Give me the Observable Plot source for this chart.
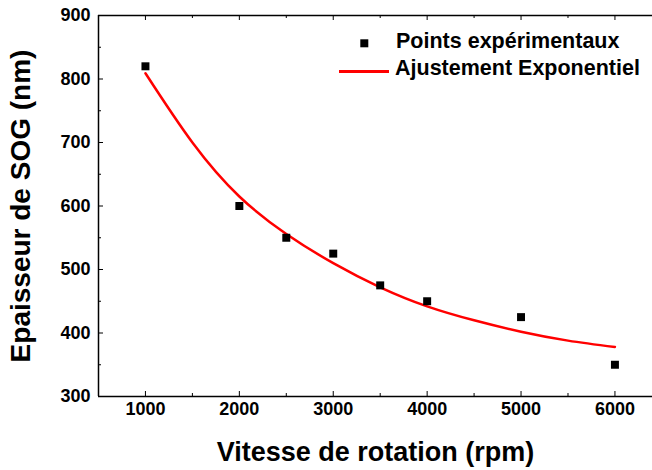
<!DOCTYPE html>
<html>
<head>
<meta charset="utf-8">
<script src="https://cdn.jsdelivr.net/npm/d3@7"></script>
<script src="https://cdn.jsdelivr.net/npm/@observablehq/plot@0.6"></script>
<style>
  html, body { margin: 0; padding: 0; background: #fff; }
  #wrap { position: relative; width: 652px; height: 470px; overflow: hidden; }
  .legend { position: absolute; font-family: Arial, "Liberation Sans", sans-serif; font-weight: bold; font-size: 21.5px; color: #000; white-space: nowrap; }
</style>
</head>
<body>
<div id="wrap"></div>
<script>
// Experimental points
const rpm = [1000, 2000, 2500, 3000, 3500, 4000, 5000, 6000];
const thickness = [820, 600, 550, 525, 475, 450, 425, 350];
// Exponential fit curve
const fitRpm = [1000, 1500, 2000, 2500, 3000, 3500, 4000, 4500, 5000, 5500, 6000];
const fitThickness = [809, 700, 615, 556, 510, 472, 442, 420, 402, 388, 378];
// Axes
const xDomain = [500, 6400];
const yDomain = [300, 900];
const xMajor = [1000, 2000, 3000, 4000, 5000, 6000];
const xMinor = [1500, 2500, 3500, 4500, 5500];
const yMajor = [300, 400, 500, 600, 700, 800, 900];
const yMinor = [350, 450, 550, 650, 750, 850];
const xLabel = "Vitesse de rotation (rpm)";
const yLabel = "Epaisseur de SOG (nm)";
const legendPoints = "Points expérimentaux";
const legendFit = "Ajustement Exponentiel";

const points = rpm.map((x, i) => ({x, y: thickness[i]}));
const fit = fitRpm.map((x, i) => ({x, y: fitThickness[i]}));

const W = 652, H = 470, mL = 98, mR = 0, mT = 15, mB = 74;
const plotW = W - mL - mR, plotH = H - mT - mB;

const chart = Plot.plot({
  width: W,
  height: H,
  marginLeft: mL,
  marginRight: mR,
  marginTop: mT,
  marginBottom: mB,
  style: {fontFamily: "Arial, 'Liberation Sans', sans-serif", fontWeight: "bold", fontSize: "18px", color: "#000", background: "#fff", overflow: "visible"},
  x: {domain: xDomain},
  y: {domain: yDomain},
  marks: [
    // frame (left, top, bottom)
    Plot.ruleY(yDomain, {stroke: "#000", strokeWidth: 1.5}),
    Plot.ruleX([xDomain[0]], {stroke: "#000", strokeWidth: 1.5}),
    // tick labels + axis titles
    Plot.axisX(xMajor, {anchor: "bottom", tickSize: 0, tickPadding: 6, fontSize: 18, fontWeight: "bold", tickFormat: d => String(d), label: xLabel, labelAnchor: "center", labelOffset: 64, labelArrow: "none"}),
    Plot.axisY(yMajor, {anchor: "left", tickSize: 0, tickPadding: 8, fontSize: 18, fontWeight: "bold", tickFormat: d => String(d), label: yLabel, labelAnchor: "center", labelOffset: 88, labelArrow: "none"}),
    // inward ticks
    Plot.tickX(xMajor, {x: d => d, insetTop: plotH - 5, stroke: "#000", strokeWidth: 1}),
    Plot.tickX(xMinor, {x: d => d, insetTop: plotH - 3, stroke: "#000", strokeWidth: 1}),
    Plot.tickX(xMajor, {x: d => d, insetBottom: plotH - 5, stroke: "#000", strokeWidth: 1}),
    Plot.tickX(xMinor, {x: d => d, insetBottom: plotH - 3, stroke: "#000", strokeWidth: 1}),
    Plot.tickY(yMajor, {y: d => d, insetRight: plotW - 5, stroke: "#000", strokeWidth: 1}),
    Plot.tickY(yMinor, {y: d => d, insetRight: plotW - 3, stroke: "#000", strokeWidth: 1}),
    // data
    Plot.line(fit, {x: "x", y: "y", stroke: "#ff0000", strokeWidth: 2.5, curve: "natural"}),
    Plot.dot(points, {x: "x", y: "y", symbol: "square", r: 4.5, fill: "#000", stroke: "none"})
  ]
});

// axis title font sizes
chart.querySelectorAll("g[aria-label='x-axis label'] text").forEach(t => t.setAttribute("font-size", "27"));
chart.querySelectorAll("g[aria-label='y-axis label'] text").forEach(t => t.setAttribute("font-size", "28"));

const wrap = document.getElementById("wrap");
wrap.appendChild(chart);

// Legend overlay
const leg = document.createElement("div");
leg.style.position = "absolute";
leg.style.left = "0";
leg.style.top = "0";
leg.innerHTML = `
  <svg width="652" height="100" style="position:absolute;left:0;top:0">
    <rect x="360.3" y="39.3" width="8" height="8" fill="#000"></rect>
    <line x1="339" x2="389" y1="71.5" y2="71.5" stroke="#ff0000" stroke-width="3"></line>
  </svg>
  <div class="legend" style="left:396px;top:29px;">${legendPoints}</div>
  <div class="legend" style="left:395px;top:56px;">${legendFit}</div>`;
wrap.appendChild(leg);
</script>
</body>
</html>
